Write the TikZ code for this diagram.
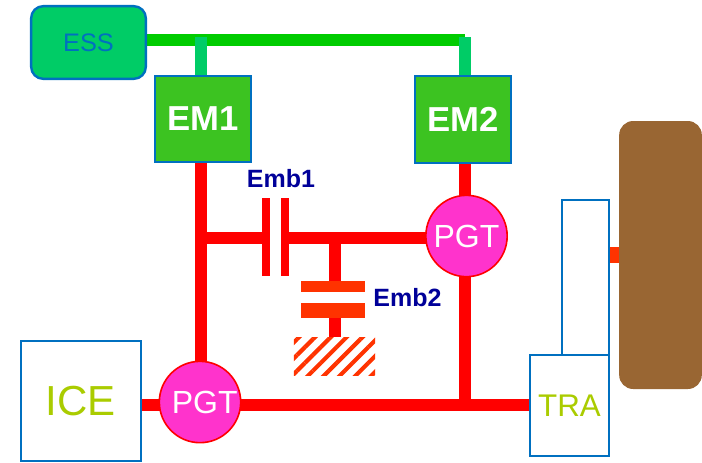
\documentclass[tikz,border=0pt]{standalone}
\usepackage{fontspec}
\setmainfont{Liberation Sans}
\usetikzlibrary{shapes, arrows.meta, positioning, backgrounds, patterns.meta}
\definecolor{boxblue}{HTML}{0070C0}
\definecolor{essgreen}{HTML}{00CC66}
\definecolor{busgreen}{HTML}{00CC00}
\definecolor{emgreen}{HTML}{3CC321}
\definecolor{pgtpink}{HTML}{FF33CC}
\definecolor{brakered}{HTML}{FF3300}
\definecolor{labelblue}{HTML}{000099}
\definecolor{textlime}{HTML}{AACC00}
\definecolor{wheelbrown}{HTML}{996633}
\tikzset{
  battery/.style={rectangle, rounded corners=9pt, draw=boxblue, fill=essgreen, line width=1.8pt, outer sep=0, inner sep=0, text=boxblue, font=\fontsize{19}{20}\selectfont},
  motor/.style={rectangle, draw=boxblue, fill=emgreen, line width=1.6pt, outer sep=0, inner sep=0, text=white, minimum width=72pt, minimum height=65pt, font=\fontsize{26}{30}\selectfont\bfseries},
  gearset/.style={circle, draw=red, fill=pgtpink, line width=1.2pt, outer sep=0, inner sep=0, text=white, minimum size=61pt, font=\fontsize{24}{26}\selectfont},
  unit/.style={rectangle, draw=boxblue, fill=white, line width=1.7pt, outer sep=0, inner sep=0, text=textlime},
  plate/.style={rectangle, outer sep=0, inner sep=0},
  tag/.style={text=labelblue, inner sep=0, font=\fontsize{18.75}{20}\selectfont\bfseries},
  shaft/.style={draw=red, line width=9pt},
  bus/.style={draw=busgreen, line width=9pt},
  busdrop/.style={draw=essgreen, line width=9pt}
}
\begin{document}
\begin{tikzpicture}[x=0.75pt, y=-0.75pt]
  \useasboundingbox (0, 0) rectangle (702, 462);
  \node[battery, minimum width=86pt, minimum height=54.5pt](ess) at (88.5, 42.5){ESS};
  \node[motor](em1) at (203, 119){EM1};
  \node[motor](em2) at (463, 119.5){EM2};
  \node[gearset](pgt1) at (200, 402){\hspace{7pt}PGT};
  \node[gearset](pgt2) at (466.5, 236){PGT};
  \node[unit, minimum width=90pt, minimum height=90pt, font=\fontsize{31.5}{36}\selectfont](ice) at (81, 401){ICE};
  \node[unit, minimum width=35pt, minimum height=116pt](case) at (585.5, 277.5){};
  \node[unit, minimum width=59pt, minimum height=76pt, font=\fontsize{23.5}{26}\selectfont](tra) at (569.5, 405.5){TRA};
  \node[rectangle, rounded corners=10.5pt, fill=wheelbrown, minimum width=62pt, minimum height=201pt, outer sep=0, inner sep=0](wheel) at (660.5, 255){};

  % clutch plates
  \node[plate, fill=red, minimum width=6pt, minimum height=58.5pt](emb1a) at (266, 237){};
  \node[plate, fill=red, minimum width=6pt, minimum height=58.5pt](emb1b) at (285, 237){};
  \node[plate, fill=brakered, minimum width=48pt, minimum height=8.25pt](emb2a) at (333, 286.5){};
  \node[plate, fill=brakered, minimum width=48pt, minimum height=11.25pt](emb2b) at (332.5, 310.5){};
  \node[plate, pattern={Lines[angle=45, distance=8.4pt, line width=3.1pt]}, pattern color=brakered, minimum width=61pt, minimum height=28.5pt](ground) at (334.5, 356){};
  \node[tag](emb1) at (281, 179){Emb1};
  \node[tag](emb2) at (407.5, 298){Emb2};

  \coordinate(busend) at (465, 40);
  \coordinate(drop1) at (201, 37);
  \coordinate(drop2) at (465, 37);
  \coordinate(joint1) at (201, 237.5);
  \coordinate(joint2) at (335, 237.5);
  \coordinate(joint3) at (465, 404.5);

  \begin{scope}[on background layer]
    \draw[bus](ess.east |- busend)--(busend);
    \draw[busdrop](drop1)--(drop1 |- em1.north);
    \draw[busdrop](drop2)--(drop2 |- em2.north);
    \draw[shaft](drop1 |- em1.south)--(drop1 |- pgt1.north);
    \draw[shaft](drop2 |- em2.south)--(drop2 |- pgt2.north);
    \draw[shaft](joint1)--(joint1 -| emb1a.west);
    \draw[shaft](joint1 -| emb1b.east)--(joint1 -| pgt2.west);
    \draw[shaft](joint2)--(joint2 |- emb2a.north);
    \draw[shaft](joint2 |- emb2b.south)--(joint2 |- ground.north);
    \draw[shaft](drop2 |- pgt2.south)--(joint3);
    \draw[shaft](ice.east |- joint3)--(tra.west |- joint3);
    \draw[draw=brakered, line width=12pt](case.east |- wheel.west)--(wheel.west);
  \end{scope}
\end{tikzpicture}
\end{document}
